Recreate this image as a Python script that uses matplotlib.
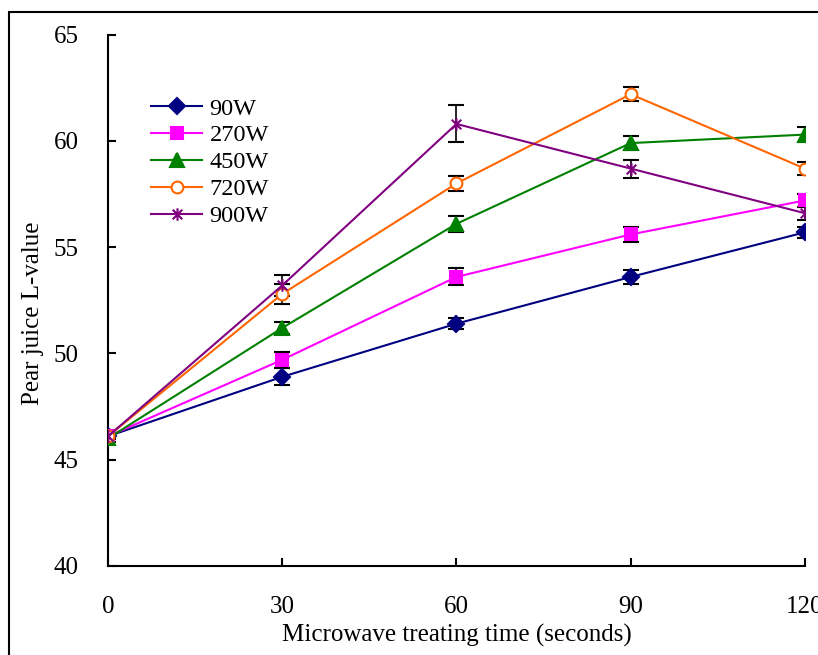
import matplotlib
matplotlib.use("Agg")
import matplotlib.pyplot as plt
from matplotlib.path import Path
from matplotlib.patches import Rectangle

# Microwave treatment times (s) and L-values for each power level
times = [0, 30, 60, 90, 120]

l_90w = [46.1, 48.9, 51.4, 53.6, 55.7]
l_270w = [46.1, 49.7, 53.6, 55.6, 57.2]
l_450w = [46.0, 51.2, 56.1, 59.9, 60.3]
l_720w = [46.1, 52.8, 58.0, 62.2, 58.7]
l_900w = [46.1, 53.2, 60.8, 58.7, 56.6]

err_90w = [0.15, 0.40, 0.25, 0.33, 0.25]
err_270w = [0.15, 0.37, 0.40, 0.35, 0.30]
err_450w = [0.15, 0.30, 0.37, 0.33, 0.37]
err_720w = [0.15, 0.45, 0.35, 0.33, 0.30]
err_900w = [0.15, 0.50, 0.87, 0.42, 0.30]

labels = ["90W", "270W", "450W", "720W", "900W"]

plt.rcParams['font.family'] = ['Liberation Serif', 'DejaVu Serif']

# Excel-style star marker: an x with a vertical stroke
star = Path([(-1, -1), (1, 1), (-1, 1), (1, -1), (0, -1.3), (0, 1.3)],
            [Path.MOVETO, Path.LINETO, Path.MOVETO, Path.LINETO, Path.MOVETO, Path.LINETO])

series = [
    (l_90w, err_90w, '#000080', 'D', 8, '#000080'),
    (l_270w, err_270w, '#FF00FF', 's', 9, '#FF00FF'),
    (l_450w, err_450w, '#008000', '^', 10, '#008000'),
    (l_720w, err_720w, '#FF6600', 'o', 8.5, 'white'),
    (l_900w, err_900w, '#800080', star, 9, '#800080'),
]

fig = plt.figure(figsize=(8.18, 6.55), dpi=100)
ax = fig.add_axes([0.132, 0.136, 0.852, 0.811])

# outer chart frame
fig.patches.append(Rectangle((9 / 818, -0.05), 1.2, 1 - 12 / 655 + 0.05,
                             transform=fig.transFigure, fill=False,
                             edgecolor='black', linewidth=1.5))

for (vals, errs, color, marker, ms, face), name in zip(series, labels):
    ax.errorbar(times, vals, yerr=errs, fmt='none', ecolor='black',
                elinewidth=1.2, capsize=6, capthick=1.5, zorder=2)
    ax.plot(times, vals, color=color, linewidth=1.5, marker=marker,
            markersize=ms, markerfacecolor=face, markeredgecolor=color,
            markeredgewidth=1.5, label=name, zorder=3)

ax.set_xlim(0, 120)
ax.set_ylim(40, 65)
ax.set_xticks(times)
ax.set_yticks([40, 45, 50, 55, 60, 65])

for side in ['top', 'right']:
    ax.spines[side].set_visible(False)
for side in ['left', 'bottom']:
    ax.spines[side].set_linewidth(1.5)

ax.tick_params(direction='in', length=6, width=1.5, labelsize=18)
ax.tick_params(axis='x', pad=22)
ax.tick_params(axis='y', pad=21)

ax.set_xlabel("Microwave treating time (seconds)", fontsize=18, labelpad=4)
ax.set_ylabel("Pear juice L-value", fontsize=18)
ax.yaxis.set_label_coords(-0.092, 0.475)

ax.legend(loc='upper left', bbox_to_anchor=(0.048, 0.9), frameon=False,
          fontsize=17.5, handlelength=2.1, handletextpad=0.3,
          labelspacing=0.2, borderaxespad=0)

fig.savefig("out.png", dpi=100)
